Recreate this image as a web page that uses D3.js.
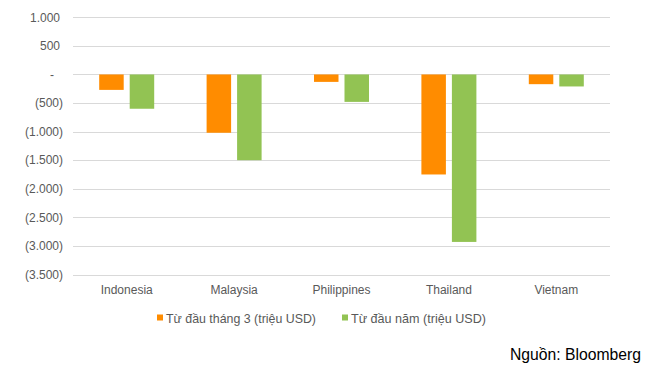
<!DOCTYPE html>
<html><head><meta charset="utf-8">
<script src="https://cdn.jsdelivr.net/npm/d3@7"></script>
<style>body{margin:0;background:#fff}svg{display:block}text{font-family:"Liberation Sans",Arial,sans-serif}</style>
</head><body>
<svg id="c" width="662" height="387"></svg>
<script>
const categories = ["Indonesia","Malaysia","Philippines","Thailand","Vietnam"];
const seriesNames = ["Từ đầu tháng 3 (triệu USD)","Từ đầu năm (triệu USD)"];
const sinceMarch = [-270,-1020,-130,-1750,-170];
const sinceYear = [-600,-1500,-480,-2930,-210];
const tickValues = [1000,500,0,-500,-1000,-1500,-2000,-2500,-3000,-3500];
const colors = ["#FF8C00","#92C353"];

const svg = d3.select("#c");
const x = d3.scaleBand().domain(categories).range([73,610]);
const y = d3.scaleLinear().domain([-3500,1000]).range([274.5,17.3]);
const fmt = v => {
  if (v === 0) return "-";
  const s = Math.abs(v).toLocaleString("de-DE");
  return v < 0 ? "(" + s + ")" : s;
};

// gridlines
svg.append("g").selectAll("line").data(tickValues).join("line")
  .attr("x1",73).attr("x2",610)
  .attr("y1",d=>Math.round(y(d))+0.5).attr("y2",d=>Math.round(y(d))+0.5)
  .attr("stroke","#d9d9d9").attr("stroke-width",1.2);

// y labels
svg.append("g").selectAll("text").data(tickValues).join("text")
  .attr("x",d=> d<0 ? 63 : (d===0 ? 54 : 60))
  .attr("y",d=>y(d)).attr("dy","0.35em")
  .attr("text-anchor","end").attr("font-size",12).attr("fill","#595959")
  .text(fmt);

const barW = 24.5, gap = 6;
const series = [sinceMarch, sinceYear];
series.forEach((vals,si)=>{
  svg.append("g").selectAll("rect").data(categories).join("rect")
    .attr("x",(c)=> x(c)+x.bandwidth()/2 + (si===0 ? -gap/2-barW : gap/2))
    .attr("width",barW)
    .attr("y",(c,i)=> y(Math.max(0,vals[i])))
    .attr("height",(c,i)=> Math.abs(y(vals[i])-y(0)))
    .attr("fill",colors[si]);
});

// x labels
svg.append("g").selectAll("text").data(categories).join("text")
  .attr("x",c=>x(c)+x.bandwidth()/2).attr("y",294)
  .attr("text-anchor","middle").attr("font-size",12).attr("fill","#595959")
  .text(c=>c);

// legend
const lg = svg.append("g");
const legX = [157,342];
const legW = [150,135];
seriesNames.forEach((n,i)=>{
  lg.append("rect").attr("x",legX[i]).attr("y",314.5).attr("width",6).attr("height",6).attr("fill",colors[i]);
  lg.append("text").attr("x",legX[i]+9).attr("y",322.5).attr("font-size",13)
    .attr("textLength",legW[i]).attr("lengthAdjust","spacingAndGlyphs")
    .attr("fill","#595959").text(n);
});

svg.append("text").attr("x",510).attr("y",360)
  .attr("font-size",16).attr("textLength",131).attr("lengthAdjust","spacingAndGlyphs")
  .attr("fill","#000").text("Nguồn: Bloomberg");
</script>
</body></html>
